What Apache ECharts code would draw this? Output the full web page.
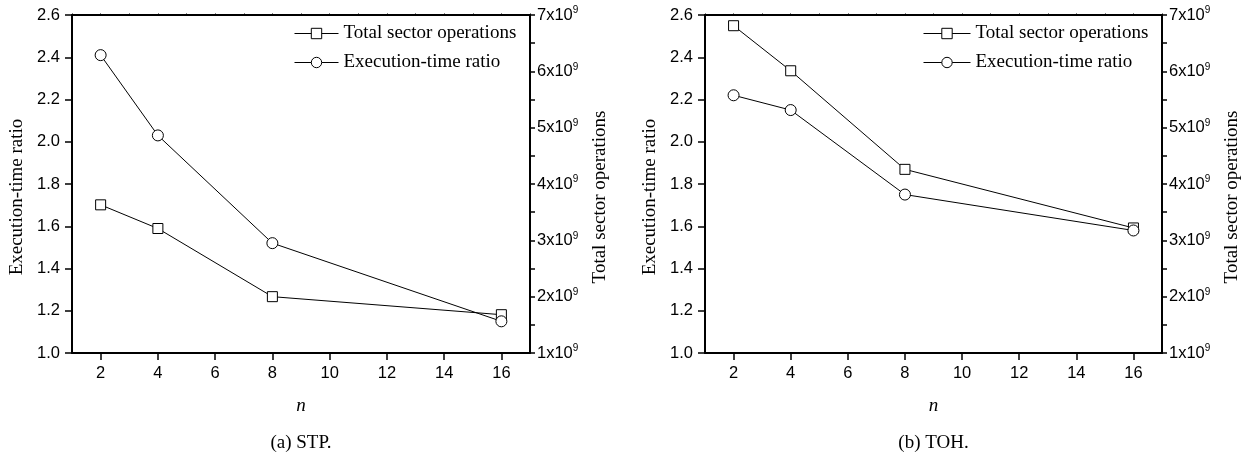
<!DOCTYPE html>
<html>
<head>
<meta charset="utf-8">
<script src="https://cdn.jsdelivr.net/npm/echarts@6/dist/echarts.min.js"></script>
<style>html,body{margin:0;padding:0;background:#fff}#c{width:1247px;height:454px}</style>
</head>
<body>
<div id="c"></div>
<script>
// ---- data ----
const nValues = [2, 4, 8, 16];
const xTickValues = [2, 4, 6, 8, 10, 12, 14, 16];
const stpRatio = [2.41, 2.03, 1.52, 1.15];
const stpOps = [3.63e9, 3.21e9, 2.0e9, 1.68e9];
const tohRatio = [2.22, 2.15, 1.75, 1.58];
const tohOps = [6.81e9, 6.01e9, 4.26e9, 3.22e9];
const seriesNames = ['Total sector operations', 'Execution-time ratio'];
const captions = ['(a) STP.', '(b) TOH.'];
const leftAxisName = 'Execution-time ratio';
const rightAxisName = 'Total sector operations';
const xAxisName = 'n';

const SANS = 'Liberation Sans';
const SERIF = 'Liberation Serif';
const TICKFS = 16.5;
const SERIFFS = 19;

function pts(vals) { return nValues.map((n, i) => [n, vals[i]]); }

const grids = [
  {left: 72, top: 15, width: 458, height: 338},
  {left: 705, top: 15, width: 457, height: 338}
];

const xAxes = [], yAxes = [], series = [], legends = [], graphics = [];
const panels = [[stpOps, stpRatio], [tohOps, tohRatio]];

panels.forEach((p, g) => {
  xAxes.push({
    gridIndex: g, type: 'value', min: 1, max: 17, position: 'bottom',
    name: xAxisName, nameLocation: 'middle', nameGap: 43,
    nameTextStyle: {fontFamily: SERIF, fontStyle: 'italic', fontSize: SERIFFS, color: '#000'},
    axisLine: {onZero: false, lineStyle: {color: '#000', width: 2}},
    axisTick: {show: true, customValues: xTickValues, length: 7, lineStyle: {color: '#000', width: 1.5}},
    axisLabel: {customValues: xTickValues, fontFamily: SANS, fontSize: TICKFS, color: '#000', margin: 12},
    splitLine: {show: false}
  });
  xAxes.push({
    gridIndex: g, type: 'value', min: 1, max: 17, interval: 1, position: 'top',
    axisLine: {onZero: false, lineStyle: {color: '#000', width: 2}},
    axisTick: {show: true, length: 1.5, lineStyle: {color: '#000', width: 1}},
    axisLabel: {show: false}, splitLine: {show: false}
  });
  yAxes.push({
    gridIndex: g, type: 'value', min: 1, max: 2.6, interval: 0.2, position: 'left',
    name: leftAxisName, nameLocation: 'middle', nameGap: 45,
    nameTextStyle: {fontFamily: SERIF, fontSize: SERIFFS, color: '#000', padding: [0, 26, 0, 0]},
    axisLine: {show: true, onZero: false, lineStyle: {color: '#000', width: 2}},
    axisTick: {show: true, length: 7, lineStyle: {color: '#000', width: 1.5}},
    axisLabel: {fontFamily: SANS, fontSize: TICKFS, color: '#000', margin: 12, formatter: v => v.toFixed(1)},
    splitLine: {show: false}
  });
  yAxes.push({
    gridIndex: g, type: 'value', min: 1e9, max: 7e9, interval: 1e9, position: 'right',
    name: rightAxisName, nameLocation: 'middle', nameGap: 61,
    nameTextStyle: {fontFamily: SERIF, fontSize: SERIFFS, color: '#000', padding: [0, 26, 0, 0]},
    axisLine: {show: true, onZero: false, lineStyle: {color: '#000', width: 2}},
    axisTick: {show: true, length: 5, lineStyle: {color: '#000', width: 1.5}},
    minorTick: {show: true, splitNumber: 2, length: 5, lineStyle: {color: '#000', width: 1.5}},
    axisLabel: {
      fontFamily: SANS, fontSize: TICKFS, color: '#000', margin: 7,
      formatter: v => '{a|' + Math.round(v / 1e9) + 'x10}{b|9}',
      rich: {
        a: {fontFamily: SANS, fontSize: TICKFS, color: '#000'},
        b: {fontFamily: SANS, fontSize: 10, color: '#000', verticalAlign: 'top', padding: [0, 0, 9, 0]}
      }
    },
    splitLine: {show: false}
  });
  const common = {
    type: 'line', xAxisIndex: g * 2, symbolSize: 11,
    lineStyle: {color: '#000', width: 1},
    itemStyle: {color: '#fff', borderColor: '#000', borderWidth: 1},
    emphasis: {disabled: true}, animation: false, z: 3
  };
  series.push(Object.assign({}, common, {
    name: seriesNames[0], yAxisIndex: g * 2 + 1, symbol: 'rect', symbolSize: 10, data: pts(p[0])
  }));
  series.push(Object.assign({}, common, {
    name: seriesNames[1], yAxisIndex: g * 2, symbol: 'circle', data: pts(p[1])
  }));
  legends.push({
    data: seriesNames, orient: 'vertical', padding: 0,
    left: g === 0 ? 294 : 923, top: 24,
    itemWidth: g === 0 ? 44 : 47, itemHeight: 13, itemGap: 10,
    lineStyle: {width: 1, color: '#000'},
    itemStyle: {color: '#fff', borderColor: '#000', borderWidth: 1},
    textStyle: {fontFamily: SERIF, fontSize: SERIFFS, color: '#000', lineHeight: 19},
    selectedMode: false
  });
  graphics.push({
    type: 'text', x: grids[g].left + grids[g].width / 2, y: 434,
    style: {text: captions[g], fontFamily: SERIF, fontSize: SERIFFS, fill: '#000', textAlign: 'center', textVerticalAlign: 'top'}
  });
});

const chart = echarts.init(document.getElementById('c'), null, {renderer: 'canvas'});
chart.setOption({
  backgroundColor: '#fff',
  animation: false,
  grid: grids,
  xAxis: xAxes,
  yAxis: yAxes,
  series: series,
  legend: legends,
  graphic: graphics
});
</script>
</body>
</html>
